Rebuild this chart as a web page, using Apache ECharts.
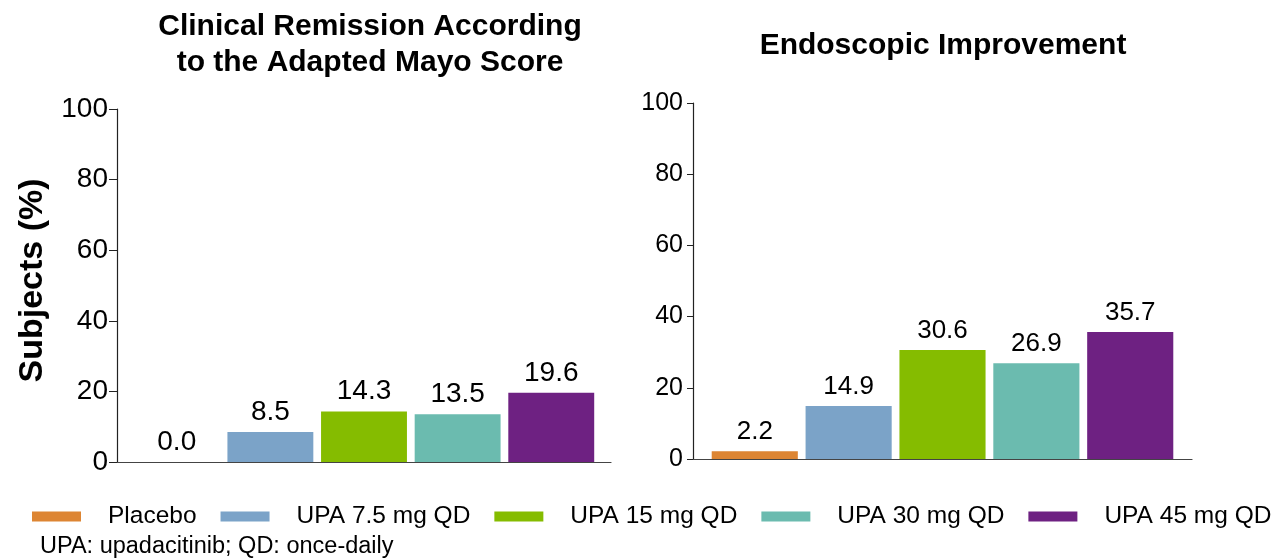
<!DOCTYPE html>
<html>
<head>
<meta charset="utf-8">
<script src="https://cdn.jsdelivr.net/npm/echarts@6/dist/echarts.min.js"></script>
<style>
  html, body { margin: 0; padding: 0; background: #fff; }
  #chart { width: 1278px; height: 560px; }
</style>
</head>
<body>
<div id="chart"></div>
<script>
// Grupos de tratamiento (leyenda) y colores
var grupos = ['Placebo', 'UPA 7.5 mg QD', 'UPA 15 mg QD', 'UPA 30 mg QD', 'UPA 45 mg QD'];
var colores = ['#DD8533', '#7BA3C8', '#85BC00', '#6BBBAF', '#6E2182'];

// Valores (%) por panel
var remisionClinica = [0.0, 8.5, 14.3, 13.5, 19.6];
var mejoraEndoscopica = [2.2, 14.9, 30.6, 26.9, 35.7];

var titulos = ['Clinical Remission According\nto the Adapted Mayo Score', 'Endoscopic Improvement'];
var nota = 'UPA: upadacitinib; QD: once-daily';

var FONT = '"Liberation Sans", Arial, sans-serif';

var chart = echarts.init(document.getElementById('chart'));

function ejeY(idx, tickSize, tickLen, margin, showName) {
    return {
        type: 'value',
        gridIndex: idx,
        min: 0, max: 100, interval: 20,
        splitLine: { show: false },
        axisLine: { show: true, lineStyle: { color: '#222', width: 1.2 } },
        axisTick: { show: true, length: tickLen, lineStyle: { color: '#222' } },
        axisLabel: { color: '#000', fontSize: tickSize, fontFamily: FONT, margin: margin },
        name: showName ? 'Subjects (%)' : '',
        nameLocation: 'middle',
        nameRotate: 90,
        nameGap: 67,
        nameTextStyle: { color: '#000', fontSize: 34, fontWeight: 'bold', fontFamily: FONT, padding: [0, 0, 0, 10] }
    };
}

function ejeX(idx) {
    return {
        type: 'category',
        gridIndex: idx,
        data: [''],
        axisLine: { show: true, lineStyle: { color: '#444', width: 1.2 } },
        axisTick: { show: false },
        axisLabel: { show: false }
    };
}

function seriesPanel(idx, valores, gap, labelSize) {
    return grupos.map(function (g, i) {
        return {
            type: 'bar',
            name: g,
            xAxisIndex: idx,
            yAxisIndex: idx,
            data: [valores[i]],
            barGap: '9%',
            barCategoryGap: gap,
            itemStyle: { color: colores[i] },
            label: {
                show: true,
                position: 'top',
                distance: 6,
                color: '#000',
                fontSize: labelSize,
                fontFamily: FONT,
                formatter: function (p) { return p.value.toFixed(1); }
            }
        };
    });
}

var option = {
    animation: false,
    backgroundColor: '#fff',
    color: colores,
    title: [
        {
            text: titulos[0], left: 365, top: 4, textAlign: 'center',
            textStyle: { fontSize: 30, fontWeight: 'bold', color: '#000', fontFamily: FONT, lineHeight: 36 }
        },
        {
            text: titulos[1], left: 938, top: 23, textAlign: 'center',
            textStyle: { fontSize: 30, fontWeight: 'bold', color: '#000', fontFamily: FONT, lineHeight: 36 }
        },
        {
            text: nota, left: 35, top: 530,
            textStyle: { fontSize: 23.5, fontWeight: 'normal', color: '#000', fontFamily: FONT }
        }
    ],
    legend: {
        data: grupos,
        left: 27, top: 499,
        itemWidth: 49, itemHeight: 10,
        itemGap: 24,
        icon: 'rect',
        textStyle: { fontSize: 24.5, color: '#000', fontFamily: FONT, padding: [0, 0, 0, 22] }
    },
    grid: [
        { left: 117, top: 109, width: 494, height: 353 },
        { left: 693, top: 103, width: 499, height: 356 }
    ],
    xAxis: [ejeX(0), ejeX(1)],
    yAxis: [ejeY(0, 28, 8, 9, true), ejeY(1, 25, 6, 10, false)],
    series: seriesPanel(0, remisionClinica, '6.8%', 28)
        .concat(seriesPanel(1, mejoraEndoscopica, '7.5%', 26))
};

chart.setOption(option);
window.addEventListener('resize', function () { chart.resize(); });
</script>
</body>
</html>
